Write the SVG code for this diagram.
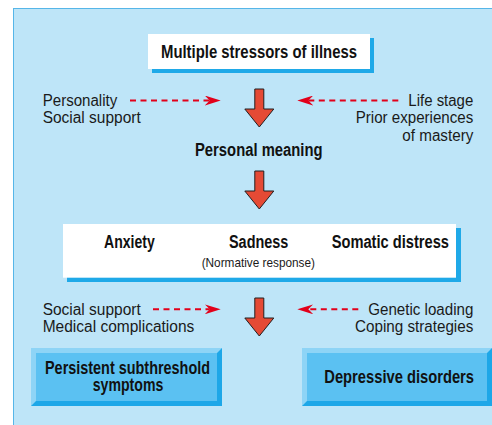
<svg xmlns="http://www.w3.org/2000/svg" width="492" height="425" viewBox="0 0 492 425">
<style>
.b{font-family:"Liberation Sans",Arial,sans-serif;font-weight:bold;font-size:17.5px;fill:#111}
.r{font-family:"Liberation Sans",Arial,sans-serif;font-size:16px;fill:#1a1a1a}
.s{font-family:"Liberation Sans",Arial,sans-serif;font-size:13.5px;fill:#1a1a1a}
.wbox{fill:#ffffff}
.shadow{fill:#1FA9E8}
.redarrow{fill:#E54A35;stroke:#231F20;stroke-width:1;stroke-linejoin:miter}
.dash{stroke:#E2001A;stroke-width:2;stroke-dasharray:6 4.5;fill:none}
.face{fill:#5BC1F2}
.dark{fill:#1DA7E8}
.light{fill:#8ED4F6}
</style>
<defs>
<marker id="ah" markerUnits="userSpaceOnUse" viewBox="0 0 16 10" markerWidth="16" markerHeight="10" refX="5" refY="5" orient="auto">
<path d="M0,0 L16,5 L0,10 L5,5 Z" fill="#E2001A"/>
</marker>
<path id="bigarrow" d="M-4.5,0 H4.5 V20 H14.5 L0,38 L-14.5,20 H-4.5 Z"/>
</defs>
<rect width="492" height="425" fill="#ffffff"/>
<rect x="13.5" y="8.5" width="490" height="430" fill="#BEE5F8" stroke="#56B6E8" stroke-width="1"/>

<g id="stressors">
<rect class="shadow" x="152" y="38" width="222" height="35"/>
<rect class="wbox" x="148" y="34" width="222" height="35"/>
<text class="b" x="161" y="58.3" textLength="196" lengthAdjust="spacingAndGlyphs">Multiple stressors of illness</text>
</g>

<g id="left-factors-1">
<text class="r" x="42.7" y="105.7" textLength="74.6" lengthAdjust="spacingAndGlyphs">Personality</text>
<text class="r" x="42.7" y="123" textLength="98" lengthAdjust="spacingAndGlyphs">Social support</text>
</g>

<g id="right-factors-1">
<text class="r" x="408.3" y="105.7" textLength="65" lengthAdjust="spacingAndGlyphs">Life stage</text>
<text class="r" x="355.7" y="123" textLength="117.6" lengthAdjust="spacingAndGlyphs">Prior experiences</text>
<text class="r" x="402.3" y="140.5" textLength="71" lengthAdjust="spacingAndGlyphs">of mastery</text>
</g>

<g id="personal-meaning">
<text class="b" x="195" y="155.5" textLength="127.5" lengthAdjust="spacingAndGlyphs">Personal meaning</text>
</g>

<g id="responses">
<rect class="shadow" x="67" y="228" width="394" height="54"/>
<rect class="wbox" x="63" y="224" width="393" height="53.7"/>
<text class="b" x="104" y="248.3" textLength="50.7" lengthAdjust="spacingAndGlyphs">Anxiety</text>
<text class="b" x="229" y="248.3" textLength="59.3" lengthAdjust="spacingAndGlyphs">Sadness</text>
<text class="b" x="331.7" y="248.3" textLength="117.3" lengthAdjust="spacingAndGlyphs">Somatic distress</text>
<text class="s" x="201.7" y="266.5" textLength="113.3" lengthAdjust="spacingAndGlyphs">(Normative response)</text>
</g>

<g id="left-factors-2">
<text class="r" x="42.7" y="314.5" textLength="98" lengthAdjust="spacingAndGlyphs">Social support</text>
<text class="r" x="42.7" y="332.3" textLength="151.6" lengthAdjust="spacingAndGlyphs">Medical complications</text>
</g>

<g id="right-factors-2">
<text class="r" x="368.3" y="314.8" textLength="105" lengthAdjust="spacingAndGlyphs">Genetic loading</text>
<text class="r" x="355" y="332.3" textLength="118.3" lengthAdjust="spacingAndGlyphs">Coping strategies</text>
</g>

<g id="subthreshold">
<rect class="dark" x="31" y="348" width="191" height="58"/>
<polygon class="light" points="31,348 222,348 217,353 36,353 36,401 31,406"/>
<rect class="face" x="36" y="353" width="181" height="48"/>
<text class="b" x="45" y="374.3" textLength="165" lengthAdjust="spacingAndGlyphs">Persistent subthreshold</text>
<text class="b" x="92.7" y="390.8" textLength="70.6" lengthAdjust="spacingAndGlyphs">symptoms</text>
</g>

<g id="depressive">
<rect class="dark" x="302" y="348" width="190" height="58"/>
<polygon class="light" points="302,348 492,348 487,353 307,353 307,401 302,406"/>
<rect class="face" x="307" y="353" width="180" height="48"/>
<text class="b" x="324.3" y="383.3" textLength="149.7" lengthAdjust="spacingAndGlyphs">Depressive disorders</text>
</g>

<g id="connectors">
<use href="#bigarrow" class="redarrow" transform="translate(259.3,89)"/>
<use href="#bigarrow" class="redarrow" transform="translate(259.3,171)"/>
<use href="#bigarrow" class="redarrow" transform="translate(259.3,298)"/>
<line class="dash" x1="130" y1="100.5" x2="209.7" y2="100.5" marker-end="url(#ah)"/>
<line class="dash" x1="398.3" y1="100.5" x2="308.3" y2="100.5" marker-end="url(#ah)"/>
<line class="dash" x1="153" y1="309.3" x2="209.7" y2="309.3" marker-end="url(#ah)"/>
<line class="dash" x1="358.3" y1="309.3" x2="308.3" y2="309.3" marker-end="url(#ah)"/>
</g>
</svg>
